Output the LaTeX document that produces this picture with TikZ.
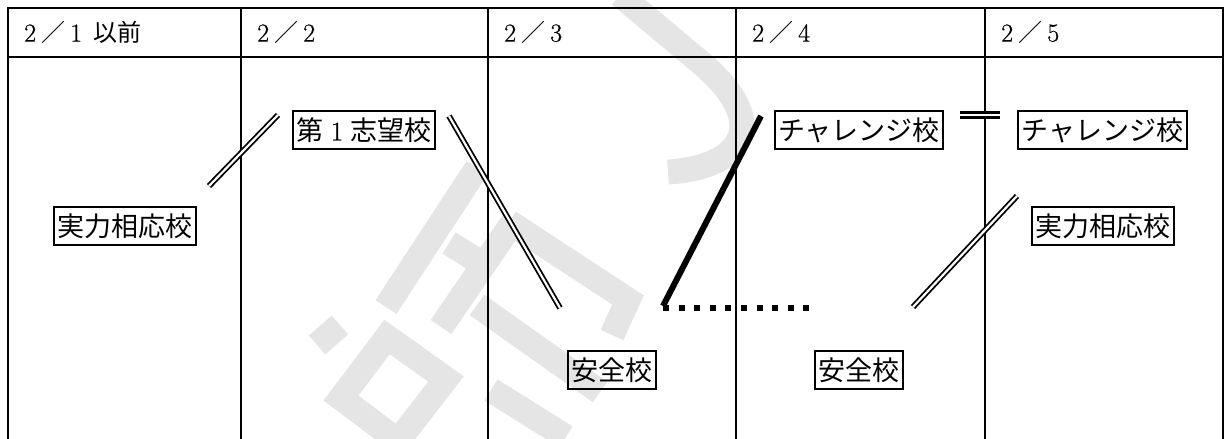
\documentclass[tikz,border=0pt]{standalone}
\usepackage{fontspec}
\newfontfamily\jp{Noto Sans CJK JP}
\newfontfamily\digf[FakeBold=0.6]{Latin Modern Roman}
\begin{document}
\begin{tikzpicture}[x=1pt,y=-1pt,
  wm/.style={draw=black!10,line width=25pt},
  gridline/.style={line width=2pt},
  hdr/.style={anchor=west,inner sep=0pt,font=\fontsize{24}{28}\selectfont},
  school/.style={draw,line width=2pt,inner xsep=3.5pt,inner ysep=5.5pt,text height=24pt,text depth=3pt,font=\jp\fontsize{27}{30}\selectfont},
  dbl/.style={line width=1.8pt,double,double distance=2.2pt},
  dbleq/.style={line width=2.4pt,double,double distance=2.6pt},
  heavy/.style={line width=6pt},
  dotline/.style={line width=6pt,dash pattern=on 6pt off 9.6pt}]
\useasboundingbox (0,0) rectangle (1227,439);
% watermark
\draw[wm] (620,-5) -- (700,62) .. controls (775,125) and (740,168) .. (668,172);
\draw[wm] (477,168) -- (386,307);
\draw[wm] (513,222) -- (441,327);
\draw[wm] (509,222) -- (628,300) -- (612,335);
\draw[wm] (449,243) -- (481,263);
\draw[wm] (477,305) -- (600,392);
\draw[wm] (491,390) -- (566,437);
\draw[wm] (387,337) -- (446,379) -- (398,441) -- (341,398) -- cycle;
\draw[wm] (340,325) -- (317,345);
% table
\draw[gridline] (8,439) -- (8,8) -- (1223,8) -- (1223,439);
\draw[gridline] (8,57) -- (1223,57);
\foreach \x in {241,488,736,985} \draw[gridline] (\x,8) -- (\x,439);
\newcommand\hd[1]{\makebox[22pt]{\digf\fontsize{26}{30}\selectfont #1}}
\node[hdr] (h1) at (19,32.5) {\hd{2}{\jp ／}\hd{1}\hspace{6pt}{\jp 以前}};
\node[hdr] (h2) at (252,32.5) {\hd{2}{\jp ／}\hd{2}};
\node[hdr] (h3) at (499,32.5) {\hd{2}{\jp ／}\hd{3}};
\node[hdr] (h4) at (747,32.5) {\hd{2}{\jp ／}\hd{4}};
\node[hdr] (h5) at (996,32.5) {\hd{2}{\jp ／}\hd{5}};
% schools
\node[school] (a1) at (124.5,225.5) {実力相応校};
\node[school] (b1) at (364,130) {第\makebox[1em]{\digf 1}志望校};
\node[school] (c1) at (612,370) {安全校};
\node[school] (d1) at (859,130) {チャレンジ校};
\node[school] (d2) at (859,370) {安全校};
\node[school] (e1) at (1102.5,130) {チャレンジ校};
\node[school] (e2) at (1103,226) {実力相応校};
% connectors
\coordinate (a1b1s) at (209,186); \coordinate (a1b1e) at (278,115);
\coordinate (b1c1s) at (449,116); \coordinate (b1c1e) at (560,308);
\coordinate (c1d1s) at (663,306); \coordinate (c1d1e) at (761,116);
\coordinate (c1d2s) at (663,308); \coordinate (c1d2e) at (810,308);
\coordinate (d1e1s) at (960,115); \coordinate (d1e1e) at (1000,115);
\coordinate (d2e2s) at (913,307); \coordinate (d2e2e) at (1017,196);
\draw[dbl] (a1b1s) -- (a1b1e);
\draw[dbl] (b1c1s) -- (b1c1e);
\draw[heavy] (c1d1s) -- (c1d1e);
\draw[dotline] (c1d2s) -- (c1d2e);
\draw[dbleq] (d1e1s) -- (d1e1e);
\draw[dbl] (d2e2s) -- (d2e2e);
\end{tikzpicture}
\end{document}
